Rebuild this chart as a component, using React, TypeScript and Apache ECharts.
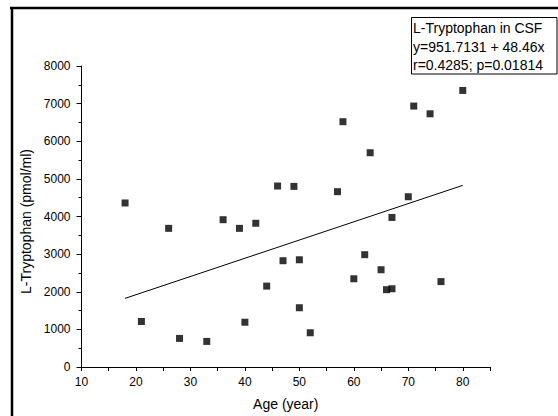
import React, { useEffect, useRef } from "react";
import * as echarts from "echarts";

const ages: number[] = [18, 21, 26, 28, 33, 36, 39, 40, 42, 44, 46, 47, 49, 50, 50, 52, 57, 58, 60, 62, 63, 65, 66, 67, 67, 70, 71, 74, 76, 80];
const tryptophan: number[] = [4360, 1210, 3685, 760, 680, 3915, 3685, 1190, 3820, 2150, 4810, 2825, 4800, 2850, 1575, 910, 4660, 6520, 2345, 2985, 5695, 2585, 2055, 2080, 3975, 4525, 6935, 6730, 2270, 7350];
const fitLineX: number[] = [18, 80];
const fitLineY: number[] = [1824, 4828];
const legendLines: string[] = ["L-Tryptophan in CSF", "y=951.7131 + 48.46x", "r=0.4285; p=0.01814"];
const xAxisTitle = "Age (year)";
const yAxisTitle = "L-Tryptophan (pmol/ml)";

const FONT = "'Liberation Sans', Arial, Helvetica, sans-serif";

export default function App() {
  const ref = useRef<HTMLDivElement>(null);
  useEffect(() => {
    if (!ref.current) return;
    const chart = echarts.init(ref.current, undefined, { renderer: "svg" });
    const points = ages.map((a, i) => [a, tryptophan[i]]);
    const fit = fitLineX.map((x, i) => [x, fitLineY[i]]);
    chart.setOption({
      animation: false,
      backgroundColor: "#ffffff",
      grid: { left: 81.5, right: 68, top: 66, bottom: 49, containLabel: false },
      xAxis: {
        type: "value",
        min: 10,
        max: 85,
        interval: 5,
        name: xAxisTitle,
        nameLocation: "middle",
        nameGap: 30,
        nameTextStyle: { fontFamily: FONT, fontSize: 14, color: "#000" },
        axisLine: { show: true, onZero: false, lineStyle: { color: "#000", width: 1 } },
        axisTick: { show: true, inside: false, length: 4, lineStyle: { color: "#000" } },
        axisLabel: {
          margin: 9,
          fontFamily: FONT,
          fontSize: 12,
          color: "#000",
          formatter: (v: number) => (v % 10 === 0 ? String(v) : ""),
        },
        splitLine: { show: false },
      },
      yAxis: {
        type: "value",
        min: 0,
        max: 8000,
        interval: 1000,
        name: yAxisTitle,
        nameLocation: "middle",
        nameGap: 42,
        nameTextStyle: { fontFamily: FONT, fontSize: 14, color: "#000", padding: [0, 0, 0, -10] },
        axisLine: { show: true, onZero: false, lineStyle: { color: "#000", width: 1 } },
        axisTick: { show: true, inside: false, length: 5, lineStyle: { color: "#000" } },
        minorTick: { show: true, splitNumber: 2, length: 3, lineStyle: { color: "#000" } },
        axisLabel: {
          margin: 11,
          fontFamily: FONT,
          fontSize: 12,
          color: "#000",
          formatter: (v: number) => String(v),
        },
        splitLine: { show: false },
      },
      series: [
        {
          type: "scatter",
          data: points,
          symbol: "rect",
          symbolSize: 7,
          itemStyle: { color: "#000" },
          silent: true,
        },
        {
          type: "line",
          data: fit,
          symbol: "none",
          lineStyle: { color: "#000", width: 1 },
          silent: true,
        },
      ],
      graphic: [
        { type: "line", shape: { x1: 10, y1: 8, x2: 558, y2: 8 }, style: { stroke: "#000", lineWidth: 2.5 } },
        { type: "line", shape: { x1: 12, y1: 7, x2: 12, y2: 416 }, style: { stroke: "#000", lineWidth: 2.5 } },
        {
          type: "rect",
          shape: { x: 411.5, y: 17.5, width: 145.5, height: 56.5 },
          style: { fill: "#fff", stroke: "#000", lineWidth: 1 },
        },
        ...legendLines.map((t, i) => ({
          type: "text",
          x: 413,
          y: 28 + i * 18.6,
          style: {
            text: t,
            fontFamily: FONT,
            fontSize: 14,
            fill: "#000",
            textAlign: "left",
            textVerticalAlign: "middle",
          },
        })),
      ],
    });
    return () => chart.dispose();
  }, []);
  return (
    <div
      ref={ref}
      style={{ position: "fixed", left: 0, top: 0, width: 558, height: 416, background: "#fff" }}
    />
  );
}
